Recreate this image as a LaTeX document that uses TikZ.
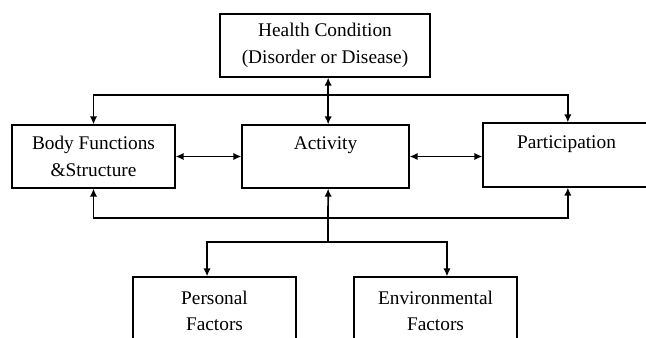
\documentclass[tikz,border=0pt]{standalone}
\usepackage{fontspec}
\setmainfont{Liberation Serif}
\usetikzlibrary{arrows.meta}
\begin{document}
\begin{tikzpicture}[x=0.75pt,y=0.75pt,>={Latex[length=6pt,width=5.5pt]}]
	\tikzstyle{every node}=[font=\fontsize{14.5}{20}\selectfont]
	\tikzstyle{box}=[draw, line width=0.9pt, align=center, inner sep=0pt, minimum height=47.25pt]
	\tikzstyle{conn}=[line width=1.3pt]
	
	\useasboundingbox (0,0) rectangle (646,338);
	\clip (0,0) rectangle (646,338);
	
	\node [box, minimum width=157.5pt] (health) at (325,292.5) {Health Condition\\(Disorder or Disease)};
	
	\node [box, minimum width=122.25pt] (body) at (93.5,181.5) {Body Functions\\\&Structure};
	\node [box, minimum width=125.25pt] (act) at (325.5,181.5) {Activity\\~};
	\node [box, minimum width=125.25pt, minimum height=48pt] (part) at (566.5,183) {Participation\\~};
	
	\node [box, minimum width=122.25pt, minimum height=51pt] (pers) at (214.5,27) {Personal\\Factors};
	\node [box, minimum width=122.25pt, minimum height=51pt] (env) at (435.5,27) {Environmental\\Factors};
	
	\coordinate (top) at (328,243);
	\coordinate (bot) at (328,120);
	\coordinate (fork) at (328,96);
	
	%health and the three middle boxes
	\draw [conn, <->] ([xshift=2pt]act.north) -- ([xshift=2pt]act.north |- health.south);
	\draw [conn, <->] (body.north) |- (top) -| ([xshift=1pt]part.north);
	\draw [conn, <->] (body.south) |- (bot) -| ([xshift=1pt]part.south);
	\draw [conn, <->] (body.east) -- (act.west);
	\draw [conn, <->] (act.east) -- (act.east -| part.west);
	
	%factors
	\draw [conn, ->] (fork) -- ([xshift=2pt]act.south);
	\draw [conn, ->] (fork) -| ([xshift=-5.6pt]pers.north);
	\draw [conn, ->] (fork) -| ([xshift=8.6pt]env.north);
	
\end{tikzpicture}
\end{document}
